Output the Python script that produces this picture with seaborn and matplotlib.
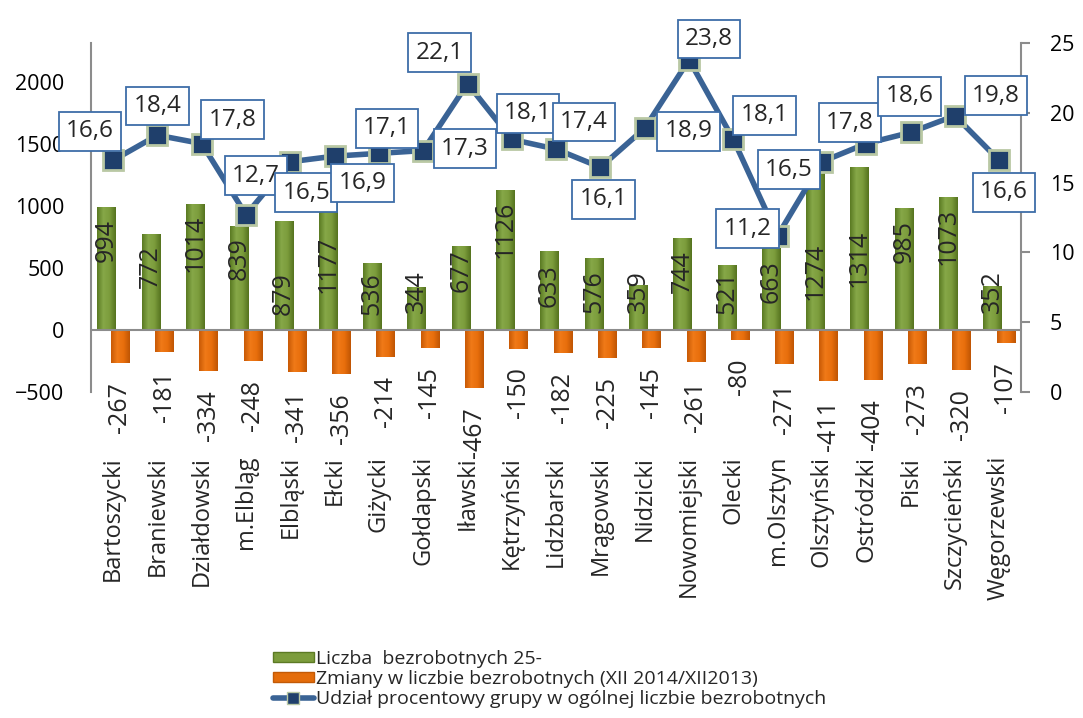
import numpy as np
import pandas as pd
import matplotlib
matplotlib.use("Agg")
import matplotlib.pyplot as plt
from matplotlib.patches import Patch
from matplotlib.lines import Line2D
from matplotlib.colors import LinearSegmentedColormap
import seaborn as sns

# --- data ------------------------------------------------------------------
powiaty = ["Bartoszycki", "Braniewski", "Działdowski", "m.Elbląg", "Elbląski",
           "Ełcki", "Giżycki", "Gołdapski", "Iławski", "Kętrzyński",
           "Lidzbarski", "Mrągowski", "Nidzicki", "Nowomiejski", "Olecki",
           "m.Olsztyn", "Olsztyński", "Ostródzki", "Piski", "Szczycieński",
           "Węgorzewski"]
liczba = [994, 772, 1014, 839, 879, 1177, 536, 344, 677, 1126, 633, 576,
          359, 744, 521, 663, 1274, 1314, 985, 1073, 352]
zmiany = [-267, -181, -334, -248, -341, -356, -214, -145, -467, -150, -182,
          -225, -145, -261, -80, -271, -411, -404, -273, -320, -107]
udzial = [16.6, 18.4, 17.8, 12.7, 16.5, 16.9, 17.1, 17.3, 22.1, 18.1, 17.4,
          16.1, 18.9, 23.8, 18.1, 11.2, 16.5, 17.8, 18.6, 19.8, 16.6]
serie = ["Liczba  bezrobotnych 25-",
         "Zmiany w liczbie bezrobotnych (XII 2014/XII2013)",
         "Udział procentowy grupy w ogólnej liczbie bezrobotnych"]

# label placement (pixels): box offsets from each marker (dx, dy up),
# and height of each green label's lower end above the zero line
box_off = [(-23, 29), (0, 29), (31, 24), (10, 39), (16, -31), (28, -27),
           (8, 25), (42, 2), (-28, 31), (16, 26), (28, 27), (3, -32),
           (44, -3), (20, 21), (31, 24), (-30, 7), (-33, -8), (-16, 21),
           (-1, 36), (41, 20), (5, -32)]
green_lbl_base = [68, 42, 58, 50, 15, 37, 15, 17, 38, 72, 23, 17, 17, 37,
                  16, 27, 30, 43, 67, 65, 17]

GREEN = "#76963A"
ORANGE = "#E46C0A"
LINE = "#3A6395"
GRAY = "#8C8C8C"

sns.set_theme(style="white")
plt.rcParams["font.family"] = ["Open Sans", "DejaVu Sans"]

fig = plt.figure(figsize=(10.83, 7.18), dpi=100)
ax = fig.add_axes([0.084, 0.454, 0.859, 0.486])

df = pd.DataFrame({
    "powiat": powiaty * 2,
    "wartosc": liczba + zmiany,
    "seria": [serie[0]] * len(powiaty) + [serie[1]] * len(powiaty),
})
sns.barplot(data=df, x="powiat", y="wartosc", hue="seria",
            palette=[GREEN, ORANGE], width=0.82, dodge=True, saturation=1,
            legend=False, ax=ax)
n = len(powiaty)

# shaded (cylinder-like) fill clipped to each bar, like the Excel bevel
cm_g = LinearSegmentedColormap.from_list("g", ["#5A7A22", "#86A848", "#7C9C3C", "#55731F"])
cm_o = LinearSegmentedColormap.from_list("o", ["#C85A05", "#F07A18", "#E86E0C", "#BF5504"])
grad = np.linspace(0, 1, 64).reshape(1, -1)
ymin, ymax = -500, 2310
for i, p in enumerate(ax.patches[:2 * n]):
    shift = 0.055 if i < n else -0.055
    p.set_x(p.get_x() + shift)
    p.set_edgecolor("none")
    x0, y0, w, h = p.get_x(), p.get_y(), p.get_width(), p.get_height()
    im = ax.imshow(grad, cmap=cm_g if i < n else cm_o, aspect="auto",
                   extent=(x0, x0 + w, min(y0, y0 + h), max(y0, y0 + h)),
                   zorder=p.get_zorder() + 0.1)
    im.set_clip_path(p)

ax.set_ylim(ymin, ymax)
ax.set_xlim(-0.5, n - 0.5)
ax.set_yticks([-500, 0, 500, 1000, 1500, 2000])
ax.set_xlabel("")
ax.set_ylabel("")
ax.axhline(0, color=GRAY, lw=1.5, zorder=3)
for s in ["top", "right", "bottom"]:
    ax.spines[s].set_visible(False)
ax.spines["left"].set_color(GRAY)
ax.spines["left"].set_linewidth(1.5)
ax.tick_params(axis="y", length=0, pad=19, labelsize=15.5, colors="black")
ax.tick_params(axis="x", length=0, pad=46, labelsize=17, rotation=90)
for t in ax.get_xticklabels():
    t.set_va("top")
    t.set_ha("center")

for i, v in enumerate(liczba):
    ax.annotate(str(v), (i - 0.15, 0), xytext=(0, green_lbl_base[i]),
                textcoords="offset pixels", rotation=90,
                ha="center", va="bottom", fontsize=18, zorder=5)
for i, v in enumerate(zmiany):
    ax.annotate(str(v), (i + 0.15, v), xytext=(0, -19),
                textcoords="offset pixels", rotation=90,
                ha="center", va="top", fontsize=18, zorder=5)

# secondary axis: percentage line
ax2 = ax.twinx()
sns.lineplot(x=np.arange(n), y=udzial, ax=ax2, color=LINE, lw=4,
             marker="s", markersize=14, markerfacecolor="#1F3F6B",
             markeredgecolor="#B9C8A4", markeredgewidth=2, zorder=4)
ax2.set_ylim(0, 25)
ax2.set_xlim(-0.5, n - 0.5)
ax2.set_yticks([0, 5, 10, 15, 20, 25])
ax2.set_ylabel("")
for s in ["top", "left", "bottom"]:
    ax2.spines[s].set_visible(False)
ax2.spines["right"].set_color(GRAY)
ax2.spines["right"].set_linewidth(1.5)
ax2.tick_params(axis="y", length=6.5, width=1.5, pad=14, labelsize=15.5,
                direction="out", colors=GRAY, labelcolor="black")

for i, v in enumerate(udzial):
    dx, dy = box_off[i]
    ax2.annotate(f"{v:.1f}".replace(".", ","), (i, v), xytext=(dx, dy),
                 textcoords="offset pixels", ha="center", va="center",
                 fontsize=17.5, zorder=6,
                 bbox=dict(boxstyle="square,pad=0.3", fc="white",
                           ec="#3E6DA8", lw=1.3))

handles = [
    Patch(facecolor="#7C9C3C", edgecolor="#5C7A24"),
    Patch(facecolor=ORANGE, edgecolor="#C25A06"),
    Line2D([0], [0], color=LINE, lw=4, marker="s", markersize=8,
           markerfacecolor="#1F3F6B", markeredgecolor="#B9C8A4"),
]
fig.legend(handles, serie, loc="upper left",
           bbox_to_anchor=(263 / 1083, 1 - 640 / 718), frameon=False,
           fontsize=14, handlelength=2.1, handleheight=0.45,
           handletextpad=0.15, labelspacing=0.12, borderpad=0)

fig.savefig("out.png", dpi=100)
